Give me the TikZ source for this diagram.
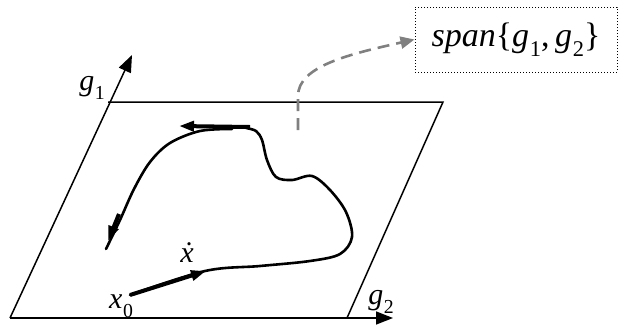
\documentclass[tikz,border=0pt]{standalone}
\usepackage{fontspec}
\setmainfont{Liberation Serif}
\usepackage{graphicx}
\usetikzlibrary{arrows.meta}
% italic symbol with an upright subscript
\newcommand\symsub[2]{\textit{#1}\kern0.02em\raisebox{-0.3em}{\scalebox{0.66}{#2}}}
\begin{document}
\begin{tikzpicture}[x=1pt,y=-1pt,
  axis/.style={line width=1.5pt,-{Triangle[length=17pt,width=13pt]}},
  edge/.style={line width=1.5pt},
  traj/.style={line width=2.6pt, line cap=round, line join=round},
  heading/.style={line width=4pt, -{Triangle[length=15pt,width=10pt]}},
  lbl/.style={inner sep=0pt, font=\fontsize{30}{34}\selectfont},
  link/.style={gray, line width=2.6pt, dash pattern=on 12pt off 7pt,
    -{Triangle[length=14pt,width=12pt]}}
]
\useasboundingbox (0,0) rectangle (619,325);

% plane corners and axis tips
\coordinate (O)  at (10,318);
\coordinate (E1) at (132,55);
\coordinate (E2) at (393,318);
\coordinate (TL) at (108,102);
\coordinate (TR) at (443,102);
\coordinate (BR) at (347,318);

% the plane spanned by g1 and g2
\draw[axis] (O) -- (E1);
\draw[axis] (O) -- (E2);
\draw[edge] (TL) -- (TR) -- (BR);

\node[lbl] (g1) at (92,88) {\symsub{g}{1}};
\node[lbl] (g2) at (381,302) {\symsub{g}{2}};

% trajectory starting at x0
\coordinate (x0) at (130,295);
\coordinate (v)  at (206,271);
\draw[traj] plot[smooth, tension=0.55] coordinates {
  (130,295) (205,271) (260,266) (310,261) (340,254) (352,237)
  (346,212) (330,190) (312,176) (292,180) (276,177) (267,160)
  (262,140) (256,131) (246,128)};
\draw[heading] (x0) -- (v);

\coordinate (topA) at (250,127);
\coordinate (topB) at (179,126);
\draw[heading] (topA) -- (topB);

\draw[traj] plot[smooth, tension=0.55] coordinates {
  (232,129) (200,131) (170,143) (150,162) (134,189) (120,220) (106,249)};
\coordinate (dnA) at (119,214);
\coordinate (dnB) at (108,241);
\draw[heading] (dnA) -- (dnB);

\node[lbl] (x0lbl) at (121,306) {\symsub{x}{0}};
\node[lbl] (xdot) at (187,253) {\textit{\.x}};

% label for the span, linked to the plane
\node[draw, dotted, line width=1pt, minimum width=202pt, minimum height=65pt,
  font=\fontsize{34}{38}\selectfont] (span) at (516,39.5)
  {\textit{span}\{\symsub{g}{1},\,\symsub{g}{2}\}};
\coordinate (lk) at (298,130);
\draw[link] (lk) -- (298,96) .. controls (298,66) and (350,54) .. (span.west);
\end{tikzpicture}
\end{document}
